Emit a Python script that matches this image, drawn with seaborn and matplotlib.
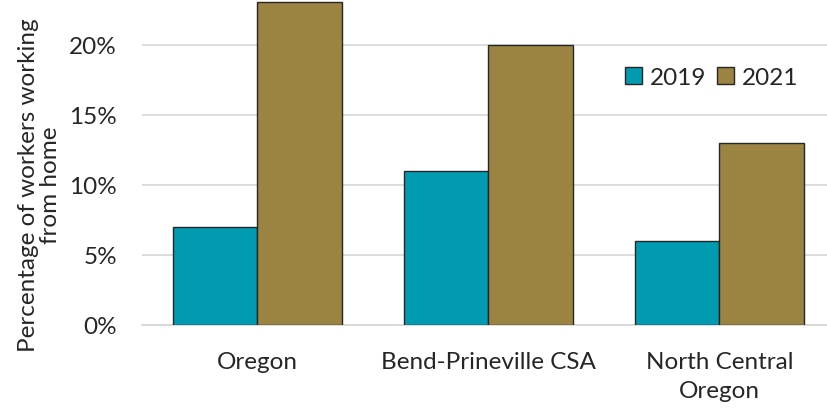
import matplotlib.pyplot as plt
import matplotlib.ticker as mticker
import pandas as pd
import seaborn as sns

# Data
regions = ["Oregon", "Bend-Prineville CSA", "North Central\nOregon"]
years = ["2019", "2021"]
pct_2019 = [7, 11, 6]
pct_2021 = [23, 20, 13]

df = pd.DataFrame({
    "region": regions * 2,
    "year": [years[0]] * 3 + [years[1]] * 3,
    "value": pct_2019 + pct_2021,
})

sns.set_style("white")
plt.rcParams["font.family"] = ["Lato", "DejaVu Sans"]

fig = plt.figure(figsize=(8.28, 4.10), dpi=100)
ax = fig.add_axes([0.1715, 0.205, 0.8285, 0.79])

sns.barplot(data=df, x="region", y="value", hue="year",
            palette=["#009BB1", "#9B8442"], saturation=1, width=0.735,
            edgecolor="#262626", linewidth=1.0, ax=ax, zorder=3)

ax.set_ylim(0, 23.1)
ax.set_xlim(-0.5, 2.47)
ax.yaxis.set_major_locator(mticker.MultipleLocator(5))
ax.yaxis.set_major_formatter(mticker.FuncFormatter(lambda v, p: f"{v:.0f}%"))
ax.grid(axis="y", color="#D9D9D9", linewidth=1.3, zorder=0)
ax.set_axisbelow(True)

for s in ["top", "right", "left"]:
    ax.spines[s].set_visible(False)
ax.spines["bottom"].set_color("#D9D9D9")
ax.spines["bottom"].set_linewidth(1.3)

ax.tick_params(axis="both", length=0, labelsize=17.5, colors="#262626")
ax.tick_params(axis="y", pad=18)
ax.tick_params(axis="x", pad=19)
for lbl in ax.get_xticklabels():
    lbl.set_linespacing(1.45)
ax.set_xlabel("")
ax.set_ylabel("Percentage of workers working\nfrom home", fontsize=17.5,
              color="#262626", linespacing=1.05)
ax.yaxis.set_label_coords(-0.118, 0.435)

leg = ax.legend(loc="center right", bbox_to_anchor=(0.988, 0.765), frameon=False,
                fontsize=17.5, ncol=2, handlelength=0.7, handleheight=0.7,
                handletextpad=0.3, columnspacing=0.45)
for t in leg.get_texts():
    t.set_color("#262626")

fig.savefig("out.png", dpi=100)
